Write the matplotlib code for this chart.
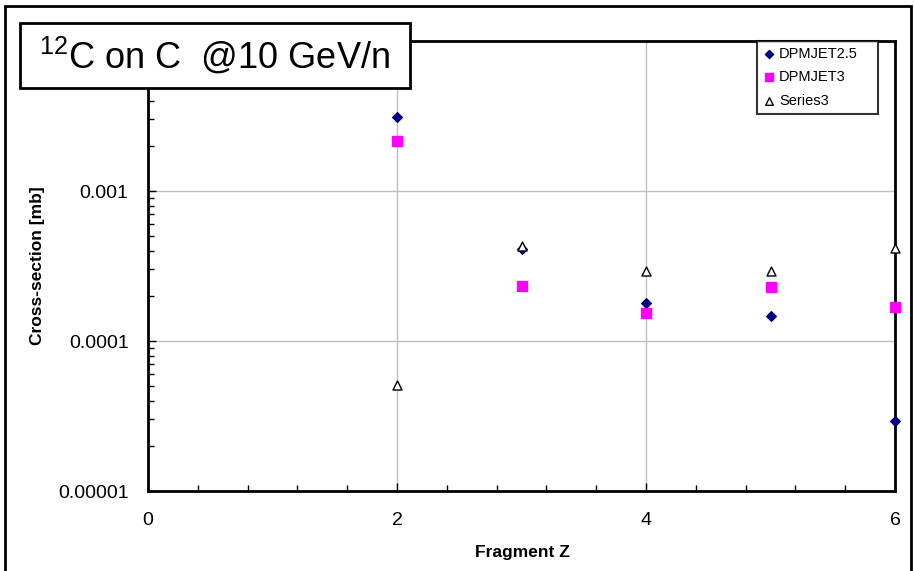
import numpy as np
import matplotlib
matplotlib.use("Agg")
import matplotlib.pyplot as plt
from matplotlib.ticker import FixedLocator, MultipleLocator, LogLocator, NullFormatter
from matplotlib.patches import Rectangle

plt.rcParams['font.family'] = ['Liberation Sans', 'DejaVu Sans']
plt.rcParams['mathtext.fontset'] = 'custom'
plt.rcParams['mathtext.rm'] = 'Liberation Sans'

# data
fragment_z = [2, 3, 4, 5, 6]
dpmjet25 = [0.00310, 0.00041, 0.000180, 0.000147, 0.0000292]
dpmjet3 = [0.00216, 0.000233, 0.000154, 0.000230, 0.000168]
series3 = [0.0000509, 0.000430, 0.000293, 0.000293, 0.000415]
y_ticks = [0.00001, 0.0001, 0.001, 0.01]
y_labels = ['0.00001', '0.0001', '0.001', '']  # 0.01 sits under the title box

W, H = 914, 571
fig = plt.figure(figsize=(W / 100, H / 100), dpi=100)
ax = fig.add_axes([148 / W, 80 / H, 747 / W, 450 / H])

ax.scatter(fragment_z, dpmjet25, marker='D', s=24, color='#000080', zorder=3,
           label='DPMJET2.5', clip_on=False)
ax.scatter(fragment_z, dpmjet3, marker='s', s=42, color='#FF00FF', zorder=3,
           label='DPMJET3', clip_on=False)
ax.scatter(fragment_z, series3, marker='^', s=42, facecolor='white', edgecolor='black',
           linewidths=1.0, zorder=4, label='Series3', clip_on=False)

ax.set_yscale('log')
ax.set_ylim(1e-5, 1e-2)
ax.set_xlim(0, 6)
ax.yaxis.set_major_locator(FixedLocator(y_ticks))
ax.set_yticklabels(y_labels)
ax.yaxis.set_minor_locator(LogLocator(base=10, subs=np.arange(2, 10)))
ax.yaxis.set_minor_formatter(NullFormatter())
ax.xaxis.set_major_locator(MultipleLocator(2))
ax.xaxis.set_minor_locator(MultipleLocator(0.4))

ax.grid(True, which='major', color='#c0c0c0', linewidth=1.0)
ax.set_axisbelow(True)
ax.tick_params(which='major', direction='in', length=6, width=1, labelsize=14)
ax.tick_params(axis='y', which='major', pad=14)
ax.tick_params(axis='x', which='major', pad=15)
ax.tick_params(which='minor', direction='in', length=4, width=1)
for sp in ax.spines.values():
    sp.set_linewidth(2)

ax.set_xlabel('Fragment Z', fontsize=12.5, fontweight='bold')
ax.set_ylabel('Cross-section [mb]', fontsize=12.5, fontweight='bold')
ax.xaxis.set_label_coords((522 - 148) / 747, -(552 - 491) / 450)
ax.yaxis.set_label_coords(-(148 - 38) / 747, (491 - 266) / 450)
ax.xaxis.label.set_va('center')
ax.yaxis.label.set_va('center')

leg = ax.legend(loc='upper left', bbox_to_anchor=(757 / W, 456 / H, 121 / W, 74 / H),
                bbox_transform=fig.transFigure, mode='expand', fontsize=10.5,
                frameon=True, fancybox=False, edgecolor='black', handletextpad=0.3,
                handlelength=0.8, borderpad=0.4, labelspacing=0.65, markerscale=0.85,
                borderaxespad=0)
leg.get_frame().set_linewidth(1.5)

# title box
fig.patches.append(Rectangle((20 / W, (H - 88) / H), 390 / W, 65 / H,
                             transform=fig.transFigure, facecolor='white',
                             edgecolor='black', linewidth=2, zorder=9))
fig.text(214 / W, (H - 56) / H, r'$\mathregular{^{12}}$C on C  @10 GeV/n', fontsize=26,
         ha='center', va='center', zorder=10)

# outer chart border
fig.patches.append(Rectangle((5 / W, -0.05), 906 / W, 1.05 - 6 / H,
                             transform=fig.transFigure, fill=False,
                             edgecolor='black', linewidth=2))

fig.savefig('out.png', dpi=100)
